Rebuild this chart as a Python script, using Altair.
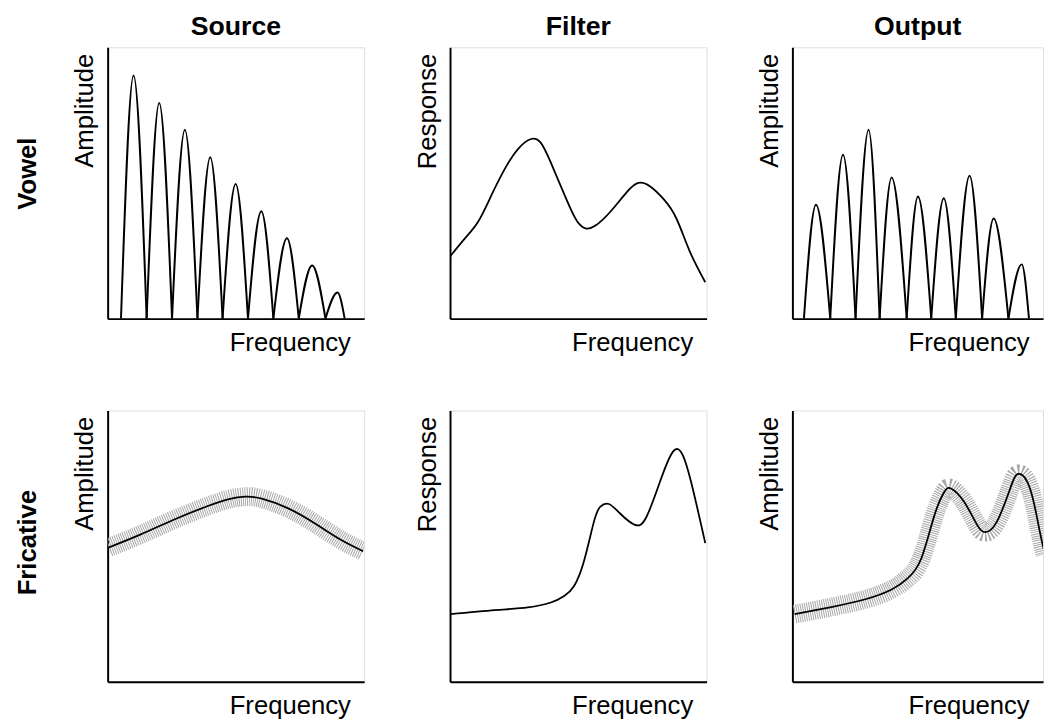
import altair as alt
import pandas as pd

# ---------------- text ----------------
col_titles = ["Source", "Filter", "Output"]
row_labels = ["Vowel", "Fricative"]
y_titles = [["Amplitude", "Response", "Amplitude"],
            ["Amplitude", "Response", "Amplitude"]]
x_title = "Frequency"

# ---------------- data (x and y in 0-100 units of each panel) ----------------
# Vowel / Source: harmonic spectrum
src_zero_x = [5.2, 15.2, 25.1, 35.0, 44.8, 54.7, 64.6, 74.5, 84.9, 92.4]
src_peak_x = [10.1, 20.1, 30.1, 40.0, 49.9, 59.9, 69.9, 79.7, 89.6]
src_peak_y = [89.6, 79.5, 69.6, 59.5, 49.6, 39.6, 29.6, 19.6, 9.6]

# Vowel / Filter: resonance curve
vf_x = [0.1, 5.9, 11.0, 16.1, 21.3, 26.4, 31.6, 35.4, 39.3, 45.8, 49.6, 52.8,
        56.7, 62.5, 68.9, 73.4, 77.9, 83.1, 88.2, 93.4, 99.5]
vf_y = [23.0, 29.7, 35.8, 45.4, 55.1, 62.4, 66.2, 64.8, 57.5, 43.0, 35.8, 33.3,
        34.3, 39.4, 46.6, 50.0, 48.8, 44.2, 37.0, 24.9, 13.4]

# Vowel / Output: filtered harmonics
out_zero_x = [4.6, 15.1, 25.2, 34.8, 45.6, 55.4, 65.2, 75.7, 86.2, 94.4]
out_peak_x = [9.4, 20.2, 30.4, 39.6, 50.1, 60.4, 70.7, 80.3, 91.5]
out_peak_y = [42.0, 60.4, 69.6, 52.0, 45.0, 44.4, 52.7, 36.9, 20.0]

# Fricative / Source: noise spectrum
fs_x = [0.5, 12.7, 25.5, 38.3, 47.3, 53.7, 60.1, 70.4, 80.7, 90.9, 99.6]
fs_y = [49.5, 54.2, 59.6, 64.5, 67.3, 68.2, 67.5, 63.9, 58.4, 52.3, 48.1]

# Fricative / Filter
ff_x = [0.1, 17.5, 30.3, 39.3, 44.5, 48.3, 52.2, 56.1, 58.6, 61.9, 66.3, 72.1,
        76.6, 81.8, 86.9, 90.8, 94.6, 99.5]
ff_y = [24.9, 26.4, 27.4, 29.2, 31.6, 35.2, 44.4, 59.0, 64.5, 65.5, 62.0, 57.8,
        60.8, 73.6, 84.8, 83.3, 71.2, 51.1]

# Fricative / Output
fo_x = [0.9, 16.0, 29.1, 39.6, 46.2, 51.5, 56.7, 60.6, 63.3, 68.5, 73.7, 77.0,
        81.6, 86.9, 90.2, 94.8, 98.7, 100.8]
fo_y = [24.9, 27.6, 30.4, 34.0, 38.3, 45.6, 61.4, 69.9, 71.2, 66.3, 57.8, 55.1,
        59.0, 71.2, 76.6, 71.2, 55.4, 47.0]

# ---------------- layout / style ----------------
FONT = "Liberation Sans"
WIDTHS = [260, 260, 254]
HEIGHT = 275
TITLE_RIGHT_GAP = 14
ROW_LABEL_Y = [128, 134]


def harmonic_table(zx, px, py):
    rows = []
    for i in range(len(px)):
        rows.append({"f": zx[i], "a": 0.0, "k": i})
        rows.append({"f": px[i], "a": py[i], "k": i})
        rows.append({"f": zx[i + 1], "a": 0.0, "k": i})
    return pd.DataFrame(rows)


def curve_table(x, y):
    return pd.DataFrame({"f": x, "a": y})


def encodings(col, row):
    w = WIDTHS[col]
    x = alt.X("f:Q", scale=alt.Scale(domain=[0, 100], nice=False, zero=False),
              axis=alt.Axis(title=x_title, domain=True, ticks=False, labels=False,
                            grid=False, domainColor="black", domainWidth=2,
                            titleFont=FONT, titleFontSize=26, titleFontWeight="normal",
                            titleColor="black", titleAlign="right",
                            titleX=w - TITLE_RIGHT_GAP, titlePadding=11))
    y = alt.Y("a:Q", scale=alt.Scale(domain=[0, 100], nice=False, zero=False),
              axis=alt.Axis(title=y_titles[row][col], domain=True, ticks=False,
                            labels=False, grid=False, domainColor="black",
                            domainWidth=2, titleFont=FONT, titleFontSize=26,
                            titleFontWeight="normal", titleColor="black",
                            titleAnchor="end", titleAlign="right", titleY=6,
                            titlePadding=10))
    return x, y


def harmonic_panel(col, row, zx, px, py):
    x, y = encodings(col, row)
    return alt.Chart(harmonic_table(zx, px, py)).mark_line(
        color="black", strokeWidth=2, interpolate="monotone", clip=True
    ).encode(x=x, y=y, detail="k:N")


def smooth_panel(col, row, xs, ys, noisy=False):
    x, y = encodings(col, row)
    base = alt.Chart(curve_table(xs, ys))
    line = base.mark_line(color="black", strokeWidth=1.8, interpolate="natural",
                          clip=True).encode(x=x, y=y)
    if not noisy:
        return line
    band = base.mark_line(color="#a6a6a6", strokeWidth=19, strokeDash=[1, 1.2],
                          strokeCap="butt", interpolate="natural",
                          clip=True).encode(x=x, y=y)
    return alt.layer(band, line)


def with_row_label(chart, row):
    label = alt.Chart(pd.DataFrame({"t": [row_labels[row]]})).mark_text(
        angle=270, font=FONT, fontSize=26, fontWeight="bold", color="black",
        align="center", baseline="middle"
    ).encode(text="t:N", x=alt.value(-81), y=alt.value(ROW_LABEL_Y[row]))
    return alt.layer(chart, label)


def finish(chart, col, row):
    props = dict(width=WIDTHS[col], height=HEIGHT)
    if row == 0:
        props["title"] = alt.TitleParams(col_titles[col], font=FONT, fontSize=27,
                                         fontWeight="bold", color="black",
                                         anchor="middle", baseline="bottom",
                                         offset=-21)
    return chart.properties(**props)


p1 = finish(with_row_label(harmonic_panel(0, 0, src_zero_x, src_peak_x, src_peak_y), 0), 0, 0)
p2 = finish(smooth_panel(1, 0, vf_x, vf_y), 1, 0)
p3 = finish(harmonic_panel(2, 0, out_zero_x, out_peak_x, out_peak_y), 2, 0)
p4 = finish(with_row_label(smooth_panel(0, 1, fs_x, fs_y, noisy=True), 1), 0, 1)
p5 = finish(smooth_panel(1, 1, ff_x, ff_y), 1, 1)
p6 = finish(smooth_panel(2, 1, fo_x, fo_y, noisy=True), 2, 1)

chart = alt.concat(p1, p2, p3, p4, p5, p6, columns=3, bounds="flush",
                   spacing=alt.RowColnumber(row=93, column=87)).properties(
    padding={"left": 6, "top": 0, "right": 0, "bottom": 0}
).configure_view(stroke=None).configure(background="white")

chart.save("out.html", embed_options={"renderer": "svg", "actions": False})
